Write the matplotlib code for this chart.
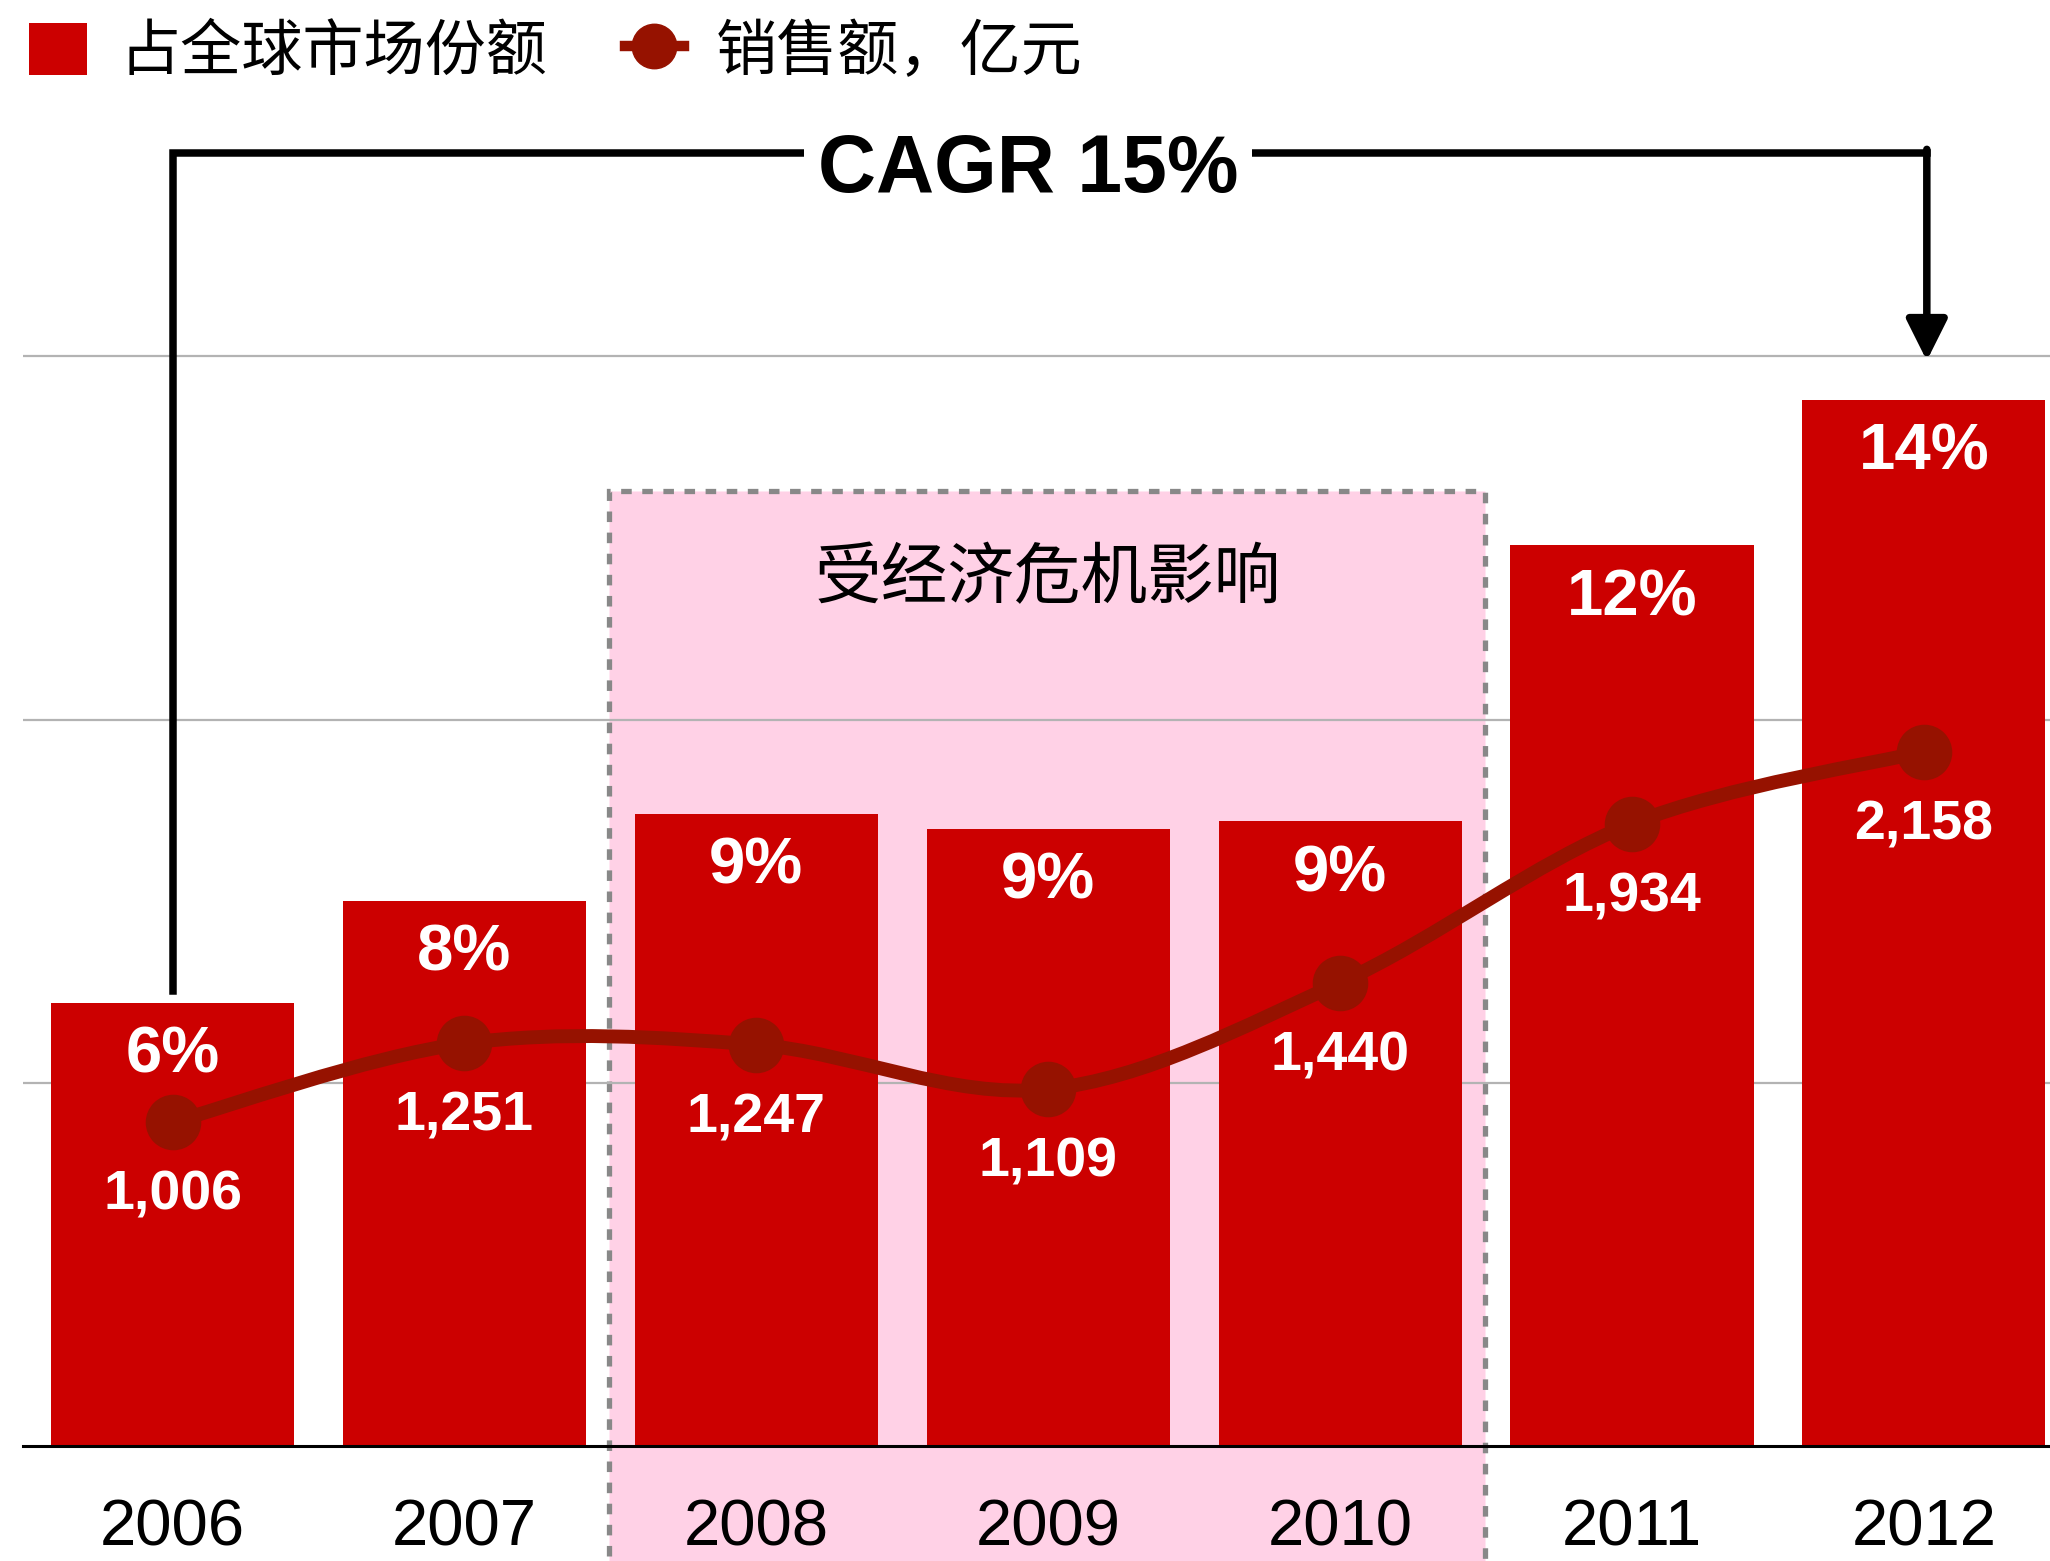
import matplotlib.pyplot as plt
import numpy as np
from matplotlib.patches import Rectangle, Patch, PathPatch
from matplotlib.lines import Line2D
from matplotlib.path import Path

# data
years = ['2006', '2007', '2008', '2009', '2010', '2011', '2012']
share = [6.1, 7.5, 8.7, 8.5, 8.6, 12.4, 14.4]            # 占全球市场份额, %
share_labels = ['6%', '8%', '9%', '9%', '9%', '12%', '14%']
sales = [1006, 1251, 1247, 1109, 1440, 1934, 2158]      # 销售额, 亿元
crisis_years = ['2008', '2010']
cagr_text = 'CAGR 15%'

BAR = '#CC0000'
LINE = '#961200'
PINK = '#FFD1E6'
CJK = ['Noto Sans CJK SC', 'DejaVu Sans']
NUM = ['Liberation Sans', 'DejaVu Sans']

fig = plt.figure(figsize=(20.5, 15.61), dpi=100)
ax = fig.add_axes([0.0112, 0.0737, 0.9888, 0.8283])
ax2 = ax.twinx()

x = np.arange(len(years))
ax.set_xlim(-0.5125, 6.432)
top = 17.8
ax.set_ylim(0, top)
ax2.set_ylim(0, 4018)

# shaded crisis period
i0, i1 = years.index(crisis_years[0]), years.index(crisis_years[1])
ax.add_patch(Rectangle((i0 - 0.505, -1.7), i1 - i0 + 1, 13.15 + 1.7, facecolor=PINK,
                       edgecolor='#888888', lw=3.8, ls=(0, (2, 2)),
                       clip_on=False, zorder=0.2))
ax.text((i0 + i1) / 2, 11.93, '受经济危机影响', ha='center', va='center',
        fontsize=48, family=CJK, zorder=3)

# grid and axes
ax.set_yticks([5, 10, 15])
ax.yaxis.grid(True, color='#b3b3b3', lw=1.6)
ax.set_axisbelow(True)
ax.tick_params(axis='y', left=False, labelleft=False)
ax.set_xticks(x, years)
ax.tick_params(axis='x', length=0, pad=38, labelsize=47)
for lab in ax.get_xticklabels():
    lab.set_family(NUM)
for s in ['top', 'left', 'right']:
    ax.spines[s].set_visible(False)
    ax2.spines[s].set_visible(False)
ax2.spines['bottom'].set_visible(False)
ax.spines['bottom'].set_linewidth(2.2)
ax2.tick_params(axis='y', right=False, labelright=False)

# bars
ax.bar(x, share, width=0.833, color=BAR, zorder=2)
for xi, s, lab in zip(x, share, share_labels):
    ax.annotate(lab, (xi, s), xytext=(0, -38), textcoords='offset points',
                ha='center', va='center', color='white', fontsize=47,
                fontweight='bold', family=NUM, zorder=3)

# smooth sales line (catmull-rom as bezier segments)
pts = np.column_stack([x, sales]).astype(float)
verts = [pts[0]]
codes = [Path.MOVETO]
n = len(pts)
for i in range(n - 1):
    p0 = pts[i - 1] if i > 0 else pts[i]
    p1, p2 = pts[i], pts[i + 1]
    p3 = pts[i + 2] if i + 2 < n else pts[i + 1]
    verts += [p1 + (p2 - p0) / 6, p2 - (p3 - p1) / 6, p2]
    codes += [Path.CURVE4] * 3
ax2.add_patch(PathPatch(Path(verts, codes), facecolor='none', edgecolor=LINE,
                        lw=10, capstyle='round', joinstyle='round', zorder=3))
ax2.plot(x, sales, 'o', ms=39, color=LINE, zorder=4)
for xi, v in zip(x, sales):
    ax2.annotate(f'{v:,}', (xi, v), xytext=(0, -53), textcoords='offset points',
                 ha='center', va='center', color='white', fontsize=40,
                 fontweight='bold', family=NUM, zorder=5)

# CAGR bracket
ax.plot([0, 0, 6.01], [share[0] + 0.16, top, top], color='black', lw=5.4,
        clip_on=False, solid_joinstyle='miter', zorder=3)
ax.annotate('', xy=(6.01, 14.94), xytext=(6.01, top + 0.05),
            arrowprops=dict(arrowstyle='-|>,head_length=1.0,head_width=0.5',
                            color='black', lw=5.4, mutation_scale=25,
                            shrinkA=0, shrinkB=0), annotation_clip=False)
ax.annotate(cagr_text, (2.93, top), xytext=(0, -28), textcoords='offset points',
            ha='center', va='baseline', fontsize=58, fontweight='bold',
            family=NUM, annotation_clip=False,
            bbox=dict(fc='white', ec='none', pad=10), zorder=4)

# legend
handles = [Patch(facecolor=BAR),
           Line2D([], [], color=LINE, lw=7.5, marker='o', ms=32)]
fig.legend(handles, ['占全球市场份额', '销售额，亿元'], loc='upper left',
           bbox_to_anchor=(0.0141, 0.9862), ncol=2, frameon=False,
           prop={'family': CJK, 'size': 44}, handlelength=0.95,
           handleheight=0.95, handletextpad=0.53, columnspacing=1.28,
           borderpad=0, borderaxespad=0)

fig.savefig('out.png', dpi=100)
